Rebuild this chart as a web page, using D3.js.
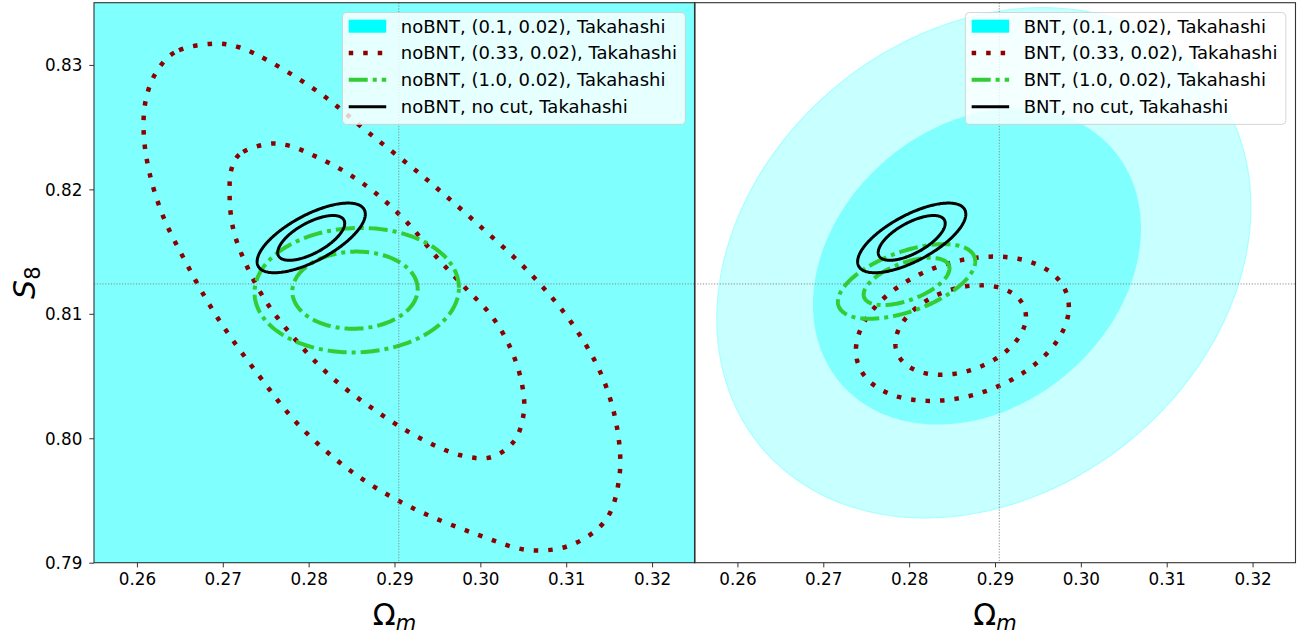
<!DOCTYPE html>
<html>
<head>
<meta charset="utf-8">
<script src="https://cdn.jsdelivr.net/npm/d3@7"></script>
<style>
  html, body { margin: 0; padding: 0; background: #fff; }
  svg { display: block; }
  text { font-family: "DejaVu Sans", sans-serif; fill: #000; }
</style>
</head>
<body>
<svg id="chart" width="1312" height="637"></svg>
<script>
// ---------------- data ----------------
const omegaTicks = [0.26, 0.27, 0.28, 0.29, 0.30, 0.31, 0.32];
const s8Ticks = [0.79, 0.80, 0.81, 0.82, 0.83];
const omegaRange = [0.255, 0.325];
const s8Range = [0.79, 0.835];
const fiducialOmega = 0.2905;
const fiducialS8 = 0.8124;

const panelNames = ["noBNT", "BNT"];
const cutLabels = ["(0.1, 0.02)", "(0.33, 0.02)", "(1.0, 0.02)", "no cut"];
const simName = "Takahashi";

// Gaussian contours, one row per level (inner, outer):
// [Ω_m centre, S8 centre, Ω_m half-width, S8 half-height, correlation]
const noBNT_cut010 = [[0.2900, 0.8120, 0.0750, 0.0480, -0.30], [0.2900, 0.8120, 0.1200, 0.0780, -0.30]];
const noBNT_cut100 = [[0.2854, 0.8119, 0.0073, 0.0031, 0.03], [0.2856, 0.8119, 0.0119, 0.0050, 0.04]];
const noBNT_noCut  = [[0.2803, 0.8161, 0.0039, 0.0018, 0.65], [0.2803, 0.8161, 0.0063, 0.0028, 0.68]];

const BNT_cut010 = [[0.2879, 0.8138, 0.0191, 0.0127, 0.24], [0.2887, 0.8141, 0.0311, 0.0205, 0.22]];
const BNT_cut033 = [[0.2860, 0.8087, 0.0076, 0.0036, 0.30], [0.2862, 0.8088, 0.0124, 0.0058, 0.30]];
const BNT_cut100 = [[0.2797, 0.8126, 0.0050, 0.0019, 0.55], [0.2797, 0.8126, 0.0080, 0.0030, 0.54]];
const BNT_noCut  = [[0.2803, 0.8161, 0.0039, 0.0018, 0.65], [0.2803, 0.8161, 0.0063, 0.0028, 0.68]];

// noBNT (0.33, 0.02): non-Gaussian contours traced as (Ω_m, S8) points
const noBNT_cut033_inner = [
  [0.27524, 0.82365], [0.27191, 0.82279], [0.27102, 0.82164], [0.27080, 0.81934],
  [0.27124, 0.81675], [0.27258, 0.81417], [0.27502, 0.81100], [0.27858, 0.80783],
  [0.28259, 0.80496], [0.28749, 0.80237], [0.29283, 0.80006], [0.29772, 0.79863],
  [0.30128, 0.79848], [0.30395, 0.79978], [0.30506, 0.80208], [0.30484, 0.80438],
  [0.30350, 0.80726], [0.30128, 0.80985], [0.29816, 0.81215], [0.29505, 0.81445],
  [0.29149, 0.81733], [0.28793, 0.81963], [0.28437, 0.82136], [0.28081, 0.82265],
  [0.27770, 0.82351]
];
const noBNT_cut033_outer = [
  [0.26901, 0.83171], [0.26435, 0.83099], [0.26212, 0.82926], [0.26101, 0.82710],
  [0.26079, 0.82452], [0.26145, 0.82136], [0.26301, 0.81791], [0.26567, 0.81417],
  [0.26924, 0.80985], [0.27414, 0.80510], [0.27903, 0.80093], [0.28526, 0.79719],
  [0.29193, 0.79446], [0.29950, 0.79230], [0.30573, 0.79101], [0.31063, 0.79144],
  [0.31463, 0.79345], [0.31619, 0.79690], [0.31597, 0.80064], [0.31419, 0.80496],
  [0.31063, 0.80927], [0.30573, 0.81330], [0.29950, 0.81733], [0.29327, 0.82107],
  [0.28703, 0.82452], [0.28170, 0.82754], [0.27547, 0.83027], [0.27191, 0.83142]
];

// ---------------- helpers ----------------
function ellipsePoints([cx, cy, ax, ay, rho], n = 240) {
  const s = Math.sqrt(1 - rho * rho);
  return d3.range(n).map(i => {
    const t = (2 * Math.PI * i) / n;
    return [cx + ax * Math.cos(t), cy + ay * (rho * Math.cos(t) + s * Math.sin(t))];
  });
}

const styles = {
  fillInner: "#80ffff",
  fillOuter: "#c8ffff",
  fillEdge: "#a8ffff",
  legendPatch: "#00ffff",
  dotted: { stroke: "#8b0000", width: 4.5, dash: "4.5 10" },
  dashdot: { stroke: "#32cd32", width: 4, dash: "19 5 4 5" },
  solid: { stroke: "#000000", width: 3, dash: null }
};

const svg = d3.select("#chart");
const plotTop = 2.7, plotBottom = 562.7;
const panelsX = [[94, 695], [694.5, 1295.5]];
const y = d3.scaleLinear().domain(s8Range).range([plotBottom, plotTop]);

const panelData = [
  { name: panelNames[0], filled: noBNT_cut010.map(c => ellipsePoints(c)),
    dotted: [noBNT_cut033_inner, noBNT_cut033_outer], dottedCurve: d3.curveCatmullRomClosed,
    dashdot: noBNT_cut100.map(c => ellipsePoints(c)), solid: noBNT_noCut.map(c => ellipsePoints(c)) },
  { name: panelNames[1], filled: BNT_cut010.map(c => ellipsePoints(c)),
    dotted: BNT_cut033.map(c => ellipsePoints(c)), dottedCurve: d3.curveLinearClosed,
    dashdot: BNT_cut100.map(c => ellipsePoints(c)), solid: BNT_noCut.map(c => ellipsePoints(c)) }
];

const tickFont = 16.8;
const legendFont = 18;
const defs = svg.append("defs");

panelData.forEach((pd, pi) => {
  const [x0, x1] = panelsX[pi];
  const x = d3.scaleLinear().domain(omegaRange).range([x0, x1]);
  const g = svg.append("g");
  const clipId = "clip" + pi;
  defs.append("clipPath").attr("id", clipId)
    .append("rect").attr("x", x0).attr("y", plotTop).attr("width", x1 - x0).attr("height", plotBottom - plotTop);

  const plot = g.append("g").attr("clip-path", `url(#${clipId})`);
  const lineLinear = d3.line().x(d => x(d[0])).y(d => y(d[1])).curve(d3.curveLinearClosed);
  const lineSmooth = d3.line().x(d => x(d[0])).y(d => y(d[1])).curve(pd.dottedCurve);

  // filled (0.1, 0.02) contours: outer then inner
  plot.append("path").attr("d", lineLinear(pd.filled[1]))
    .attr("fill", styles.fillOuter).attr("stroke", styles.fillEdge).attr("stroke-width", 1.2);
  plot.append("path").attr("d", lineLinear(pd.filled[0]))
    .attr("fill", styles.fillInner).attr("stroke", "none");

  // (0.33, 0.02) dotted
  pd.dotted.forEach(c => {
    plot.append("path").attr("d", lineSmooth(c)).attr("fill", "none")
      .attr("stroke", styles.dotted.stroke).attr("stroke-width", styles.dotted.width)
      .attr("stroke-dasharray", styles.dotted.dash);
  });
  // (1.0, 0.02) dash-dot
  pd.dashdot.forEach(c => {
    plot.append("path").attr("d", lineLinear(c)).attr("fill", "none")
      .attr("stroke", styles.dashdot.stroke).attr("stroke-width", styles.dashdot.width)
      .attr("stroke-dasharray", styles.dashdot.dash);
  });
  // no cut solid
  pd.solid.forEach(c => {
    plot.append("path").attr("d", lineLinear(c)).attr("fill", "none")
      .attr("stroke", styles.solid.stroke).attr("stroke-width", styles.solid.width);
  });

  // fiducial lines
  plot.append("line").attr("x1", x(fiducialOmega)).attr("x2", x(fiducialOmega))
    .attr("y1", plotTop).attr("y2", plotBottom)
    .attr("stroke", "#808080").attr("stroke-width", 0.9).attr("stroke-dasharray", "1.2 1.6");
  plot.append("line").attr("x1", x0).attr("x2", x1)
    .attr("y1", y(fiducialS8)).attr("y2", y(fiducialS8))
    .attr("stroke", "#808080").attr("stroke-width", 0.9).attr("stroke-dasharray", "1.2 1.6");

  // x axis
  const xAxis = d3.axisBottom(x).tickValues(omegaTicks).tickSize(4.7).tickPadding(5.5)
    .tickFormat(d3.format(".2f"));
  const xg = g.append("g").attr("transform", `translate(0,${plotBottom})`).call(xAxis);
  xg.select(".domain").remove();
  xg.selectAll(".tick line").attr("stroke", "#333").attr("stroke-width", 1);
  xg.selectAll(".tick text").attr("font-size", tickFont).attr("font-family", "DejaVu Sans").attr("fill", "#000");

  // y axis only on the left panel
  if (pi === 0) {
    const yAxis = d3.axisLeft(y).tickValues(s8Ticks).tickSize(4.7).tickPadding(7)
      .tickFormat(d3.format(".2f"));
    const yg = g.append("g").attr("transform", `translate(${x0},0)`).call(yAxis);
    yg.select(".domain").remove();
    yg.selectAll(".tick line").attr("stroke", "#333").attr("stroke-width", 1);
    yg.selectAll(".tick text").attr("font-size", tickFont).attr("font-family", "DejaVu Sans")
      .attr("fill", "#000").attr("dy", "0.36em");
  }

  // frame
  g.append("rect").attr("x", x0).attr("y", plotTop).attr("width", x1 - x0).attr("height", plotBottom - plotTop)
    .attr("fill", "none").attr("stroke", "#333").attr("stroke-width", 1.1);

  // x label Ω_m
  const xl = g.append("text").attr("x", (x0 + x1) / 2).attr("y", 625)
    .attr("text-anchor", "middle").attr("font-size", 30);
  xl.append("tspan").text("Ω");
  xl.append("tspan").attr("font-style", "italic").attr("font-size", 21).attr("dy", 5).text("m");

  // legend
  const lg = g.append("g");
  const rowY = [26.2, 53.0, 79.7, 106.8];
  const texts = cutLabels.map(c => `${pd.name}, ${c}, ${simName}`);
  const widths = texts.map(t => {
    const n = lg.append("text").attr("font-size", legendFont).text(t);
    const w = n.node().getComputedTextLength();
    n.remove();
    return w;
  });
  const boxW = 58.3 + d3.max(widths) + 8.4;
  const boxX = x1 - 9.7 - boxW;
  const boxY = 12.5, boxH = 111.9;
  lg.append("rect").attr("x", boxX).attr("y", boxY).attr("width", boxW).attr("height", boxH)
    .attr("rx", 4).attr("fill", "#fff").attr("fill-opacity", 0.8)
    .attr("stroke", "#cccccc").attr("stroke-opacity", 0.8).attr("stroke-width", 1);
  const hx0 = boxX + 6.3, hx1 = hx0 + 37.5;
  lg.append("rect").attr("x", hx0).attr("y", rowY[0] - 6.5).attr("width", hx1 - hx0).attr("height", 13)
    .attr("fill", styles.legendPatch);
  [styles.dotted, styles.dashdot, styles.solid].forEach((s, i) => {
    const l = lg.append("line").attr("x1", hx0).attr("x2", hx1).attr("y1", rowY[i + 1]).attr("y2", rowY[i + 1])
      .attr("stroke", s.stroke).attr("stroke-width", s.width);
    if (s.dash) l.attr("stroke-dasharray", s.dash);
  });
  texts.forEach((t, i) => {
    lg.append("text").attr("x", boxX + 58.3).attr("y", rowY[i] + 6.3)
      .attr("font-size", legendFont).text(t);
  });
});

// y label S_8
const yl = svg.append("text").attr("transform", "translate(35,282.7) rotate(-90)")
  .attr("text-anchor", "middle").attr("font-size", 30);
yl.append("tspan").attr("font-style", "italic").text("S");
yl.append("tspan").attr("font-size", 21).attr("dy", 5).text("8");
</script>
</body>
</html>
